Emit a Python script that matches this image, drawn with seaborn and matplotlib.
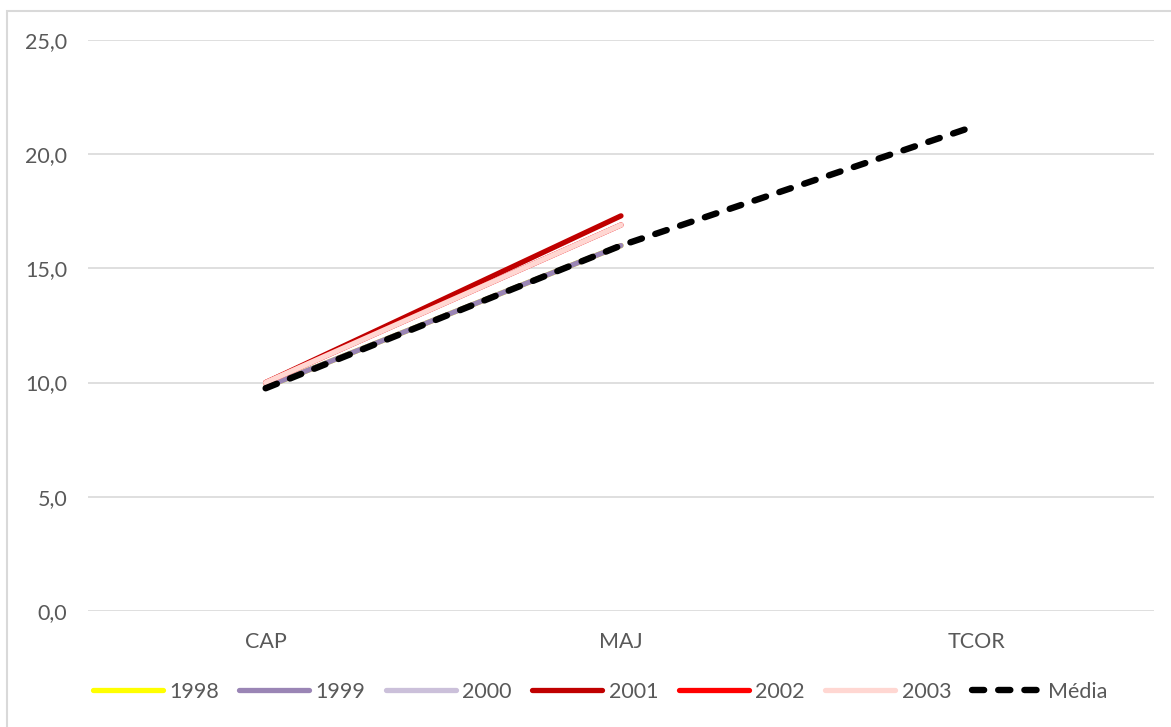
import matplotlib
matplotlib.use("Agg")
import matplotlib.pyplot as plt
import seaborn as sns
import pandas as pd
from matplotlib.patches import Rectangle
from matplotlib.lines import Line2D

# Categories on the x axis
categorias = ["CAP", "MAJ", "TCOR"]

# Yearly series (only CAP and MAJ available)
v1998 = [9.8, 16.0]
v1999 = [9.8, 16.0]
v2000 = [10.0, 16.9]
v2001 = [10.0, 17.3]
v2002 = [10.0, 16.9]
v2003 = [10.0, 16.9]
media = [9.75, 16.0, 21.25]

series = ["1998", "1999", "2000", "2001", "2002", "2003", "Média"]
valores = [v1998, v1999, v2000, v2001, v2002, v2003, media]
cores = ["#FFFF00", "#9A85B5", "#CBC0DA", "#C00000", "#FF0000", "#FFD7D2", "#000000"]

y_ticks = [0, 5, 10, 15, 20, 25]

sns.set_theme(style="white")
plt.rcParams["font.family"] = ["Lato", "DejaVu Sans"]

FS = 15.5

rows = []
for nome, vals in zip(series, valores):
    for c, v in zip(categorias, vals):
        rows.append({"categoria": c, "valor": v, "serie": nome})
df = pd.DataFrame(rows)
df["pos"] = df["categoria"].map({c: i for i, c in enumerate(categorias)})

fig = plt.figure(figsize=(11.71, 7.27), dpi=100)
ax = fig.add_axes([0.0751, 0.1596, 0.9104, 0.7854])

DASH = (1.9, 2.2)
handles = []
for nome, cor in zip(series, cores):
    sub = df[df["serie"] == nome]
    if nome == "Média":
        sns.lineplot(data=sub, x="pos", y="valor", ax=ax, color=cor, linewidth=4.6,
                     sort=False, legend=False)
        ln = ax.get_lines()[-1]
        ln.set_dashes(DASH)
        ln.set_dash_capstyle("round")
        h = Line2D([], [], color=cor, linewidth=4.6, dashes=DASH,
                   dash_capstyle="round")
    else:
        sns.lineplot(data=sub, x="pos", y="valor", ax=ax, color=cor, linewidth=3.8,
                     sort=False, legend=False)
        ln = ax.get_lines()[-1]
        ln.set_solid_capstyle("round")
        h = Line2D([], [], color=cor, linewidth=3.8, solid_capstyle="round")
    handles.append(h)

ax.set_xlim(-0.5, len(categorias) - 0.5)
ax.set_ylim(0, 25)
ax.set_xticks(range(len(categorias)))
ax.set_xticklabels(categorias)
ax.set_yticks(y_ticks)
ax.set_yticklabels([f"{t:.1f}".replace(".", ",") for t in y_ticks])
ax.set_xlabel("")
ax.set_ylabel("")
ax.tick_params(axis="both", length=0, labelsize=FS, labelcolor="#595959")
ax.tick_params(axis="x", pad=15)
ax.tick_params(axis="y", pad=15)
ax.yaxis.grid(True, color="#D9D9D9", linewidth=1.2)
ax.set_axisbelow(True)
for s in ax.spines.values():
    s.set_visible(False)

leg = fig.legend(handles, series, loc="center",
                 bbox_to_anchor=(600 / 1171, 1 - 692 / 727),
                 ncol=7, frameon=False, fontsize=FS, handlelength=3.25,
                 handletextpad=0.3, columnspacing=0.95)
for t in leg.get_texts():
    t.set_color("#595959")

# chart border
fig.patches.append(Rectangle((7 / 1171, -0.05), 1.1, 1 - 11 / 727 + 0.05,
                             transform=fig.transFigure, fill=False,
                             edgecolor="#D9D9D9", linewidth=1.5))

fig.savefig("out.png", dpi=100, facecolor="white")
